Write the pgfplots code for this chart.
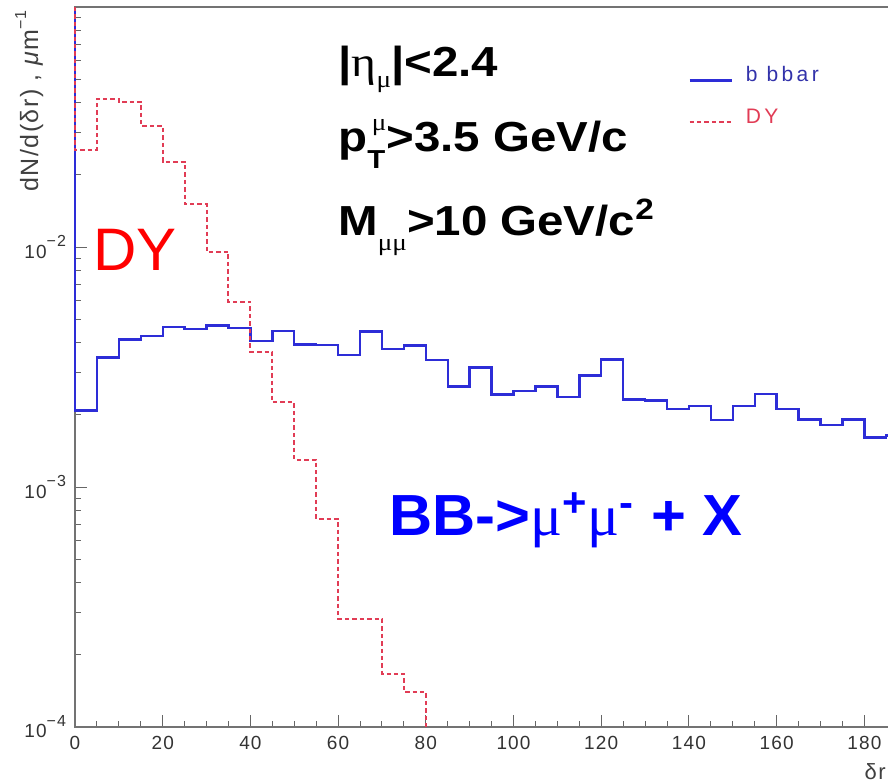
\documentclass[border=0pt]{standalone}
\usepackage{pgfplots}
\pgfplotsset{compat=1.18}
\usepackage{fontspec}
\setmainfont{Liberation Sans}
\newfontfamily\grk{Liberation Serif}
\newfontfamily\rootf[LetterSpace=6]{Liberation Sans}
\newfontfamily\legf[LetterSpace=16]{Liberation Sans}
\definecolor{bbline}{RGB}{45,45,215}
\definecolor{dyline}{RGB}{225,60,85}
\definecolor{bbtext}{RGB}{50,50,170}

% histogram contents, left bin edges (bin width 5)
\pgfplotstableread{
x y
0 0.1
0 0.00208
5 0.00346
10 0.00412
15 0.00427
20 0.00463
25 0.00456
30 0.00471
35 0.00460
40 0.00406
45 0.00446
50 0.00393
55 0.00390
60 0.00355
65 0.00444
70 0.00375
75 0.00389
80 0.00338
85 0.00262
90 0.00315
95 0.00243
100 0.00251
105 0.00262
110 0.00237
115 0.00291
120 0.00340
125 0.00232
130 0.00229
135 0.00211
140 0.00217
145 0.00190
150 0.00217
155 0.00244
160 0.00211
165 0.00191
170 0.00181
175 0.00191
180 0.00161
185 0.00164
190 0.00164
}\bbbar
\pgfplotstableread{
x y
0 0.1
0 0.0254
5 0.0415
10 0.0403
15 0.0320
20 0.0227
25 0.0151
30 0.00955
35 0.00592
40 0.00367
45 0.00225
50 0.00130
55 0.000736
60 0.000282
65 0.000282
70 0.000167
75 0.000140
80 0.0001
}\dy

\newcommand\wide[1]{\scalebox{1.13}[1]{#1}}

\begin{document}
\begin{tikzpicture}
\path[use as bounding box, clip] (-37.5pt,-28pt) rectangle (406.5pt,363.5pt);
\begin{axis}[
  at={(0pt,0pt)}, anchor=south west,
  scale only axis, width=416.6pt, height=360pt,
  xmin=0, xmax=190,
  ymode=log, ymin=1e-4, ymax=0.1,
  clip=false,
  xtick={0,20,...,180}, minor x tick num=3,
  ytick={1e-4,1e-3,1e-2},
  minor ytick={2e-4,3e-4,4e-4,5e-4,6e-4,7e-4,8e-4,9e-4,
               2e-3,3e-3,4e-3,5e-3,6e-3,7e-3,8e-3,9e-3,
               2e-2,3e-2,4e-2,5e-2,6e-2,7e-2,8e-2,9e-2},
  yticklabels={{10\raisebox{1.1ex}{\fontsize{8}{8}\selectfont −4}},
               {10\raisebox{1.1ex}{\fontsize{8}{8}\selectfont −3}},
               {10\raisebox{1.1ex}{\fontsize{8}{8}\selectfont −2}}},
  /pgf/number format/assume math mode=true,
  tick pos=left, tick align=inside,
  major tick length=6pt, minor tick length=3pt,
  tick style={black!60, line width=0.5pt},
  axis line style={black!55, line width=0.7pt},
  ticklabel style={font=\rootf\fontsize{9.5}{11}\selectfont, text=black!80},
  xticklabel style={yshift=-1pt},
  yticklabel style={xshift=-1pt},
  legend style={draw=none, fill=none, inner sep=0pt,
    at={(0.7357,0.9236)}, anchor=north west,
    font=\legf\fontsize{10.5}{13}\selectfont,
    row sep=8pt},
  legend cell align=left,
  legend image code/.code={\draw[#1] (0pt,-2.5pt) -- (21pt,-2.5pt);},
]
\addplot[const plot mark left, bbline, line width=1.2pt] table {\bbbar};
\addlegendentry{\hspace*{4.5pt}\textcolor{bbtext}{b bbar}}
\addplot[const plot mark left, dyline, line width=1pt,
  dash pattern=on 2.2pt off 1.5pt] table {\dy};
\addlegendentry{\hspace*{4.5pt}\textcolor{dyline}{DY}}
\end{axis}

\node[anchor=base east, rotate=90, inner sep=0pt,
  font=\rootf\fontsize{12.5}{12.5}\selectfont, text=black!75]
  at (-18.5pt,358.5pt) {dN/d(δr) , \textit{μ}m\raisebox{0.9ex}{\fontsize{8}{8}\selectfont −1}};
\node[anchor=base east, inner sep=0pt,
  font=\rootf\fontsize{11}{11}\selectfont, text=black!75]
  at (405.5pt,-26pt) {δr};

\node[anchor=base west, inner sep=0pt, font=\fontsize{21}{21}\selectfont\bfseries]
  at (131.5pt,325pt)
  {\wide{|{\mdseries\grk η}\raisebox{-0.25em}{\fontsize{12}{12}\selectfont\mdseries\grk μ}|<2.4}};
\node[anchor=base west, inner sep=0pt, font=\fontsize{21}{21}\selectfont\bfseries]
  at (131.5pt,287.5pt)
  {\wide{p\rlap{\raisebox{-0.4em}{\fontsize{13}{13}\selectfont T}}\raisebox{0.5em}{\fontsize{12}{12}\selectfont\mdseries\grk\,μ}>3.5 GeV/c}};
\node[anchor=base west, inner sep=0pt, font=\fontsize{21}{21}\selectfont\bfseries]
  at (131.5pt,246pt)
  {\wide{M\raisebox{-0.36em}{\fontsize{12}{12}\selectfont\mdseries\grk μμ}>10 GeV/c\textsuperscript{2}}};
\node[anchor=base west, inner sep=0pt, text=red, font=\fontsize{30}{30}\selectfont]
  at (9pt,228.5pt) {DY};
\node[anchor=base west, inner sep=0pt, text=blue, font=\fontsize{29}{29}\selectfont\bfseries]
  at (157pt,96pt)
  {\scalebox{1.03}[1]{BB->{\mdseries\grk μ}\textsuperscript{+}{\mdseries\grk μ}\textsuperscript{-} + X}};
\end{tikzpicture}
\end{document}
